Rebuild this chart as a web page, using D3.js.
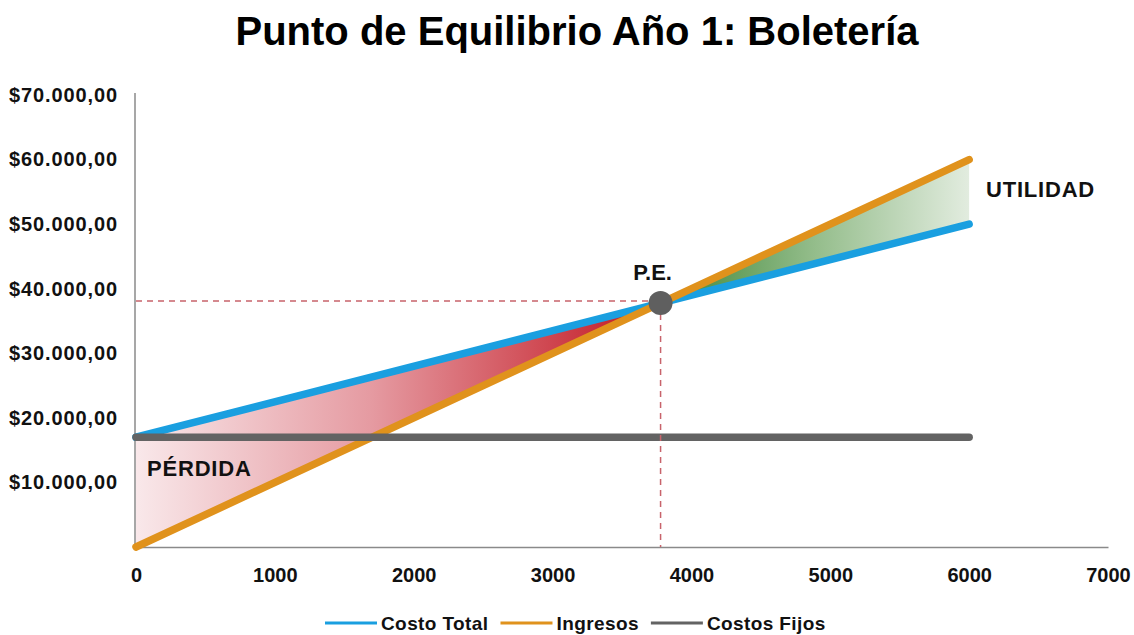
<!DOCTYPE html>
<html>
<head>
<meta charset="utf-8">
<script src="https://cdn.jsdelivr.net/npm/d3@7"></script>
<style>
  html, body { margin: 0; padding: 0; background: #ffffff; }
  svg { display: block; font-family: "Liberation Sans", Arial, Helvetica, sans-serif; }
</style>
</head>
<body>
<svg id="chart" width="1134" height="635"></svg>
<script>
// Units sold (x) and the three series (y, in $)
const unidades     = [0, 6000];
const costoTotal   = [17000, 50000];
const ingresos     = [0, 60000];
const costosFijos  = [17000, 17000];

const xTicks = [0, 1000, 2000, 3000, 4000, 5000, 6000, 7000];
const yTicks = [10000, 20000, 30000, 40000, 50000, 60000, 70000];

const series = [
  { name: "Costo Total",  values: costoTotal,  color: "#1a9fe0" },
  { name: "Ingresos",     values: ingresos,    color: "#e0921c" },
  { name: "Costos Fijos", values: costosFijos, color: "#636363" }
];

const svg = d3.select("#chart");

const x = d3.scaleLinear().domain([0, 7000]).range([136, 1108]);
const y = d3.scaleLinear().domain([0, 70000]).range([547, 95]);

const locale = d3.formatLocale({ decimal: ",", thousands: ".", grouping: [3], currency: ["$", ""] });
const fmtMoney = locale.format("$,.2f");

// Break-even point: where revenue line meets total-cost line
const slope = v => (v[1] - v[0]) / (unidades[1] - unidades[0]);
const peX = (costoTotal[0] - ingresos[0]) / (slope(ingresos) - slope(costoTotal));
const peY = ingresos[0] + slope(ingresos) * peX;
const at = (v, q) => v[0] + slope(v) * (q - unidades[0]);

// Gradients for the loss / profit areas
const defs = svg.append("defs");
const gLoss = defs.append("linearGradient").attr("id", "gradPerdida")
  .attr("gradientUnits", "userSpaceOnUse")
  .attr("x1", x(0)).attr("x2", x(peX)).attr("y1", 0).attr("y2", 0);
gLoss.append("stop").attr("offset", 0).attr("stop-color", "#f9e8ea");
gLoss.append("stop").attr("offset", 0.45).attr("stop-color", "#e59aa1");
gLoss.append("stop").attr("offset", 1).attr("stop-color", "#c1121d");

const gProfit = defs.append("linearGradient").attr("id", "gradUtilidad")
  .attr("gradientUnits", "userSpaceOnUse")
  .attr("x1", x(peX)).attr("x2", x(unidades[1])).attr("y1", 0).attr("y2", 0);
gProfit.append("stop").attr("offset", 0).attr("stop-color", "#3c8535");
gProfit.append("stop").attr("offset", 0.5).attr("stop-color", "#94bd8b");
gProfit.append("stop").attr("offset", 1).attr("stop-color", "#e2ecdf");

const area = d3.line().x(d => x(d[0])).y(d => y(d[1]));

// Loss region (cost above revenue)
svg.append("path")
  .attr("d", area([[0, at(costoTotal, 0)], [peX, peY], [0, at(ingresos, 0)]]) + "Z")
  .attr("fill", "url(#gradPerdida)");

// Profit region (revenue above cost)
svg.append("path")
  .attr("d", area([[peX, peY], [unidades[1], at(ingresos, unidades[1])], [unidades[1], at(costoTotal, unidades[1])]]) + "Z")
  .attr("fill", "url(#gradUtilidad)");

// Axes
const xAxis = svg.append("g").attr("transform", `translate(0,${y(0)})`)
  .call(d3.axisBottom(x).tickValues(xTicks).tickSize(0).tickPadding(21).tickFormat(d3.format("d")));
xAxis.select(".domain").attr("stroke", "#8a8a8a").attr("stroke-width", 1.5);
xAxis.selectAll("text").attr("font-size", 20).attr("font-weight", "bold").attr("fill", "#111")
  .attr("font-family", "'Liberation Sans', Arial, sans-serif");

const yAxis = svg.append("g").attr("transform", `translate(${x(0) - 1},0)`)
  .call(d3.axisLeft(y).tickValues(yTicks).tickSize(0).tickPadding(17).tickFormat(fmtMoney));
yAxis.select(".domain").attr("stroke", "#8a8a8a").attr("stroke-width", 1.5)
  .attr("d", `M0,${y(70000) - 2}V${y(0)}`);
yAxis.selectAll("text").attr("font-size", 20).attr("font-weight", "bold").attr("fill", "#111")
  .attr("letter-spacing", 0.9)
  .attr("font-family", "'Liberation Sans', Arial, sans-serif");

// Series lines
const line = d3.line().x((d, i) => x(unidades[i])).y(d => y(d));
svg.append("g").selectAll("path")
  .data(series)
  .join("path")
  .attr("d", d => line(d.values))
  .attr("fill", "none")
  .attr("stroke", d => d.color)
  .attr("stroke-width", 7.5)
  .attr("stroke-linecap", "round");

// Break-even guides
svg.append("line")
  .attr("x1", x(0)).attr("x2", x(peX)).attr("y1", y(peY) - 2).attr("y2", y(peY) - 2)
  .attr("stroke", "#c8636b").attr("stroke-width", 1.5).attr("stroke-dasharray", "6,5");
svg.append("line")
  .attr("x1", x(peX)).attr("x2", x(peX)).attr("y1", y(peY)).attr("y2", y(0))
  .attr("stroke", "#c8636b").attr("stroke-width", 1.5).attr("stroke-dasharray", "6,5");

svg.append("circle")
  .attr("cx", x(peX)).attr("cy", y(peY)).attr("r", 12)
  .attr("fill", "#5f5f5f");

// Labels
svg.append("text").attr("x", 577).attr("y", 45).attr("text-anchor", "middle")
  .attr("font-size", 40).attr("font-weight", "bold").attr("fill", "#000")
  .text("Punto de Equilibrio Año 1: Boletería");

svg.append("text").attr("x", x(peX) - 8).attr("y", 280).attr("text-anchor", "middle")
  .attr("font-size", 22).attr("font-weight", "bold").attr("fill", "#111")
  .text("P.E.");

svg.append("text").attr("x", 147).attr("y", 476)
  .attr("font-size", 22).attr("font-weight", "bold").attr("fill", "#111")
  .attr("letter-spacing", 0.8)
  .text("PÉRDIDA");

svg.append("text").attr("x", 986).attr("y", 197)
  .attr("font-size", 22).attr("font-weight", "bold").attr("fill", "#111")
  .attr("letter-spacing", 0.8)
  .text("UTILIDAD");

// Legend
const legend = svg.append("g");
let lx = 325;
const ly = 623;
series.forEach(s => {
  legend.append("line").attr("x1", lx).attr("x2", lx + 52).attr("y1", ly).attr("y2", ly)
    .attr("stroke", s.color).attr("stroke-width", 3);
  const t = legend.append("text").attr("x", lx + 56).attr("y", ly + 7)
    .attr("font-size", 19).attr("font-weight", "bold").attr("fill", "#111")
    .attr("letter-spacing", 0.4)
    .text(s.name);
  lx += 56 + t.node().getComputedTextLength() + 12;
});
</script>
</body>
</html>
